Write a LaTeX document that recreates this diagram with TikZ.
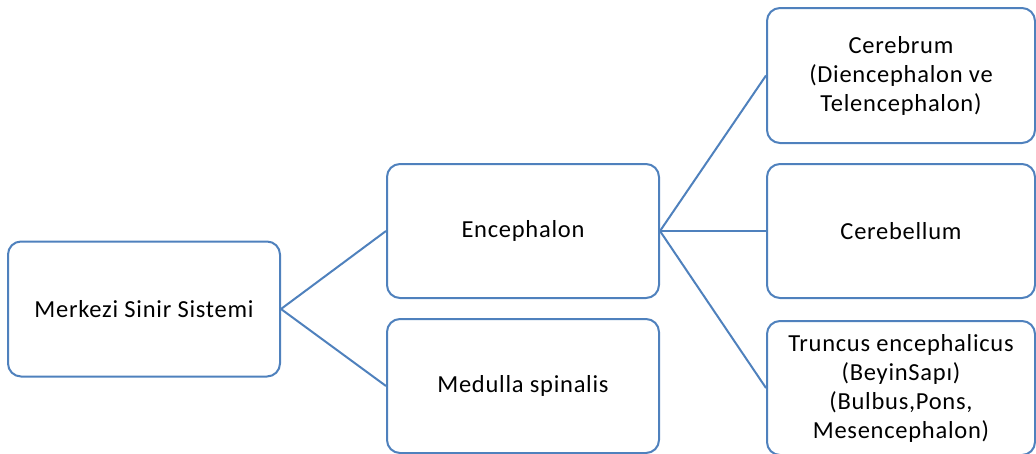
\documentclass[tikz,border=0pt]{standalone}
\usepackage{fontspec}
\setmainfont{Carlito}[LetterSpace=3]
\definecolor{boxblue}{RGB}{79,129,189}
\begin{document}
\begin{tikzpicture}[x=1pt,y=-1pt,
  box/.style={draw=boxblue, line width=2pt, rounded corners=13pt, fill=white,
    minimum width=272pt, minimum height=135pt, inner sep=2pt, align=center,
    font=\fontsize{24.5}{29}\selectfont},
  link/.style={draw=boxblue, line width=2pt}]
\useasboundingbox (0,0) rectangle (1036,453);
\node[box] (msss) at (144,309) {Merkezi Sinir Sistemi};
\node[box, minimum height=134pt] (enc) at (523,231) {Encephalon};
\node[box, minimum height=134pt] (med) at (523,386) {Medulla spinalis};
\node[box, minimum width=268pt] (cer) at (901,75.5) {Cerebrum\\(Diencephalon ve\\Telencephalon)};
\node[box, minimum width=268pt, minimum height=134pt] (cbl) at (901,231) {Cerebellum};
\node[box, minimum width=268pt, minimum height=134pt] (tru) at (901,388) {Truncus encephalicus\\(BeyinSapı)\\(Bulbus,Pons,\\Mesencephalon)};
\draw[link] (msss.east) -- (enc.west);
\draw[link] (msss.east) -- (med.west);
\draw[link] (enc.east) -- (cer.west);
\draw[link] (enc.east) -- (cbl.west);
\draw[link] (enc.east) -- (tru.west);
\end{tikzpicture}
\end{document}
